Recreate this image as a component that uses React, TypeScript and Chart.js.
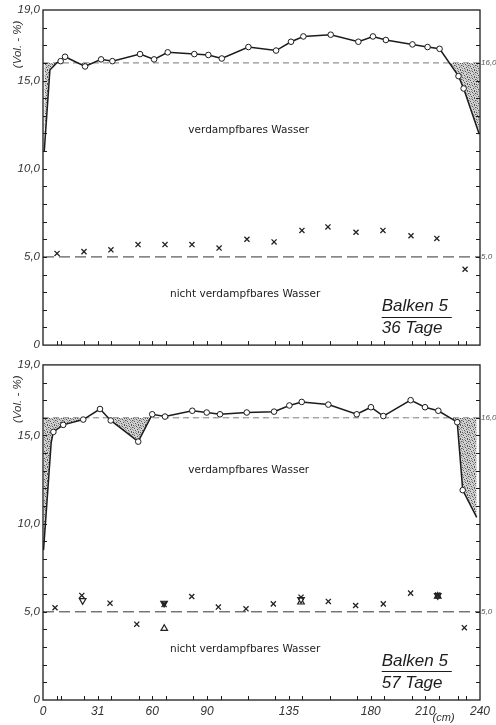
import React, { useEffect, useRef } from "react";
import { Chart, registerables } from "chart.js";
Chart.register(...registerables);

// ---------------- data ----------------
const xLabelValues = [0, 30, 60, 90, 135, 180, 210, 240];
const xLabelTexts = ["0", "31", "60", "90", "135", "180", "210", "240"];
const xMinorTicks = [7.5, 10, 22.5, 30, 37.5, 52.5, 60, 67.5, 82.5, 90, 97.5, 112.5, 127.5, 135, 142.5, 157.5, 172.5, 180, 187.5, 202.5, 210, 217.5, 228, 232.5];
const yLabelValues = [0, 5, 10, 15, 19];
const yRightLabelValues = [5, 16];
const upperReference = 16;
const lowerReference = 5;

// Panel 1 – Balken 5 / 36 Tage
const p1StartX = [0.7, 3.8, 7.5];
const p1StartY = [11.0, 15.6, 16.0];
const p1CircleX = [9.7, 12.1, 23.1, 31.9, 38.1, 53.3, 61, 68.5, 83.1, 90.8, 98.2, 112.8, 128, 136.2, 143, 158, 173.2, 181.2, 188.3, 202.9, 211.2, 217.8, 228.2, 231];
const p1CircleY = [16.1, 16.35, 15.8, 16.2, 16.1, 16.5, 16.2, 16.6, 16.5, 16.45, 16.25, 16.9, 16.7, 17.2, 17.5, 17.6, 17.2, 17.5, 17.3, 17.05, 16.9, 16.8, 15.25, 14.55];
const p1EndX = [239.6];
const p1EndY = [11.95];
const p1CrossX = [7.7, 22.5, 37.3, 52.2, 67, 81.8, 96.7, 112, 126.9, 142.2, 156.5, 171.9, 186.7, 202.1, 216.3, 231.8];
const p1CrossY = [5.2, 5.3, 5.4, 5.7, 5.7, 5.7, 5.5, 6.0, 5.85, 6.5, 6.7, 6.4, 6.5, 6.2, 6.05, 4.3];

// Panel 2 – Balken 5 / 57 Tage
const p2StartX = [0.3, 4.5];
const p2StartY = [8.5, 14.6];
const p2CircleX = [5.7, 11.1, 22.1, 31.3, 37.2, 52.3, 60, 67, 82, 89.9, 97.2, 111.9, 126.9, 135.3, 142.1, 156.7, 172.3, 180.1, 186.9, 201.9, 209.8, 217.1, 227.5, 230.5];
const p2CircleY = [15.2, 15.6, 15.9, 16.5, 15.85, 14.65, 16.2, 16.07, 16.4, 16.3, 16.2, 16.3, 16.35, 16.7, 16.9, 16.75, 16.2, 16.6, 16.1, 17.0, 16.6, 16.4, 15.75, 11.9];
const p2EndX = [238.2];
const p2EndY = [10.35];
const p2CrossX = [6.6, 21.3, 36.8, 51.5, 66.5, 81.7, 96.3, 111.5, 126.5, 141.7, 156.7, 171.7, 186.9, 201.9, 216.8, 231.4];
const p2CrossY = [5.23, 5.93, 5.49, 4.3, 5.42, 5.87, 5.27, 5.17, 5.45, 5.83, 5.59, 5.36, 5.45, 6.06, 5.96, 4.1];
const p2DownX = [21.8, 66.5, 141.7, 216.8];
const p2DownY = [5.64, 5.49, 5.7, 5.92];
const p2UpX = [66.6, 141.7, 216.8];
const p2UpY = [4.05, 5.55, 5.88];

// ---------------- helpers ----------------
const pts = (xs: number[], ys: number[]) => xs.map((x, i) => ({ x, y: ys[i] }));
const fmt = (v: number) => (v === 0 ? "0" : v.toFixed(1).replace(".", ","));
const INK = "#1c1c1c";
const AXIS_FONT = "Liberation Sans";

function makePattern(): CanvasPattern | string {
  const c = document.createElement("canvas");
  c.width = 7;
  c.height = 7;
  const g = c.getContext("2d");
  if (!g) return "#aaa";
  g.fillStyle = "#d2d2d2";
  g.fillRect(0, 0, 7, 7);
  g.fillStyle = "#555";
  [[0, 0], [3, 1], [6, 2], [1, 3], [4, 4], [2, 5], [5, 6], [5, 0]].forEach(([x, y]) => g.fillRect(x, y, 1, 1));
  g.fillStyle = "#999";
  [[2, 0], [0, 2], [4, 2], [6, 4], [0, 5], [3, 6], [1, 1], [5, 3]].forEach(([x, y]) => g.fillRect(x, y, 1, 1));
  return g.createPattern(c, "repeat") || "#aaa";
}

type PanelCfg = {
  startX: number[]; startY: number[];
  circleX: number[]; circleY: number[];
  endX: number[]; endY: number[];
  crossX: number[]; crossY: number[];
  downX?: number[]; downY?: number[];
  upX?: number[]; upY?: number[];
  days: string;
  showXLabels: boolean;
  canvasTop: number;
  canvasHeight: number;
  padTop: number;
  xAxisHeight: number;
};

function decoPlugin(cfg: PanelCfg) {
  return {
    id: "deco",
    afterDatasetsDraw(chart: any) {
      const { ctx, chartArea: a, scales } = chart;
      const xs = scales.x, ys = scales.y;
      ctx.save();
      // frame
      ctx.strokeStyle = INK;
      ctx.lineWidth = 1.3;
      ctx.strokeRect(a.left, a.top, a.right - a.left, a.bottom - a.top);
      // inward ticks
      ctx.lineWidth = 1;
      ctx.beginPath();
      for (let v = 1; v <= 18; v++) {
        const py = Math.round(ys.getPixelForValue(v)) + 0.5;
        ctx.moveTo(a.left, py); ctx.lineTo(a.left + 4, py);
        ctx.moveTo(a.right, py); ctx.lineTo(a.right - 4, py);
      }
      xMinorTicks.forEach((v) => {
        const px = Math.round(xs.getPixelForValue(v)) + 0.5;
        ctx.moveTo(px, a.bottom); ctx.lineTo(px, a.bottom - 4);
      });
      ctx.stroke();

      // texts
      ctx.fillStyle = INK;
      ctx.textBaseline = "middle";
      ctx.textAlign = "center";
      ctx.font = "10.5px 'DejaVu Sans'";
      const topTextY = cfg.showXLabels ? 13.0 : 12.2;
      ctx.fillText("verdampfbares Wasser", xs.getPixelForValue(113), ys.getPixelForValue(topTextY));
      ctx.fillText("nicht verdampfbares Wasser", xs.getPixelForValue(111), ys.getPixelForValue(2.9));

      // Balken label
      ctx.textAlign = "left";
      ctx.font = `italic 17px ${AXIS_FONT}`;
      const bx = xs.getPixelForValue(186);
      ctx.fillText("Balken 5", bx, ys.getPixelForValue(2.2));
      ctx.fillText(cfg.days, bx, ys.getPixelForValue(0.95));
      ctx.lineWidth = 1.2;
      ctx.beginPath();
      const by = Math.round(ys.getPixelForValue(1.62)) + 0.5;
      ctx.moveTo(bx, by);
      ctx.lineTo(xs.getPixelForValue(224.5), by);
      ctx.stroke();

      // y title
      ctx.save();
      ctx.translate(18, ys.getPixelForValue(17.05));
      ctx.rotate(-Math.PI / 2);
      ctx.textAlign = "center";
      ctx.font = `italic 11.5px ${AXIS_FONT}`;
      ctx.fillStyle = "#333";
      ctx.fillText("(Vol. - %)", 0, 0);
      ctx.restore();

      if (cfg.showXLabels) {
        ctx.font = `italic 11px ${AXIS_FONT}`;
        ctx.textAlign = "center";
        ctx.fillStyle = "#333";
        ctx.fillText("(cm)", xs.getPixelForValue(220), a.bottom + 18);
      }
      ctx.restore();
    },
  };
}

function Panel(cfg: PanelCfg) {
  const ref = useRef<HTMLCanvasElement | null>(null);
  useEffect(() => {
    if (!ref.current) return;
    const pattern = makePattern();
    const lineData = [
      ...pts(cfg.startX, cfg.startY),
      ...pts(cfg.circleX, cfg.circleY),
      ...pts(cfg.endX, cfg.endY),
    ];
    const nStart = cfg.startX.length;
    const nCircle = cfg.circleX.length;
    const isCircle = (i: number) => i >= nStart && i < nStart + nCircle;

    const datasets: any[] = [
      {
        data: lineData,
        borderColor: INK,
        borderWidth: 1.5,
        tension: 0,
        pointRadius: (c: any) => (isCircle(c.dataIndex) ? 2.8 : 0),
        pointBorderWidth: 1,
        pointBorderColor: INK,
        pointBackgroundColor: "#fff",
        fill: { target: { value: upperReference }, above: "rgba(0,0,0,0)", below: pattern },
      },
      {
        data: pts(cfg.crossX, cfg.crossY),
        showLine: false,
        pointStyle: "crossRot",
        pointRadius: 3.6,
        pointBorderWidth: 1.3,
        pointBorderColor: "#222",
      },
    ];
    if (cfg.downX && cfg.downY) {
      datasets.push({
        data: pts(cfg.downX, cfg.downY),
        showLine: false,
        pointStyle: "triangle",
        rotation: 180,
        pointRadius: 3.8,
        pointBorderWidth: 1.2,
        pointBorderColor: "#222",
        pointBackgroundColor: (c: any) => (c.dataIndex === 1 || c.dataIndex === 3 ? "#444" : "#fff"),
      });
    }
    if (cfg.upX && cfg.upY) {
      datasets.push({
        data: pts(cfg.upX, cfg.upY),
        showLine: false,
        pointStyle: "triangle",
        pointRadius: 3.8,
        pointBorderWidth: 1.2,
        pointBorderColor: "#222",
        pointBackgroundColor: (c: any) => (c.dataIndex === 2 ? "#444" : "#fff"),
      });
    }
    datasets.push(
      {
        data: [{ x: 0, y: upperReference }, { x: 240, y: upperReference }],
        borderColor: "#777",
        borderWidth: 1,
        borderDash: [6, 4],
        pointRadius: 0,
        fill: false,
      },
      {
        data: [{ x: 0, y: lowerReference }, { x: 240, y: lowerReference }],
        borderColor: "#333",
        borderWidth: 1,
        borderDash: [11, 5],
        pointRadius: 0,
        fill: false,
      }
    );

    const chart = new Chart(ref.current, {
      type: "line",
      data: { datasets },
      plugins: [decoPlugin(cfg)],
      options: {
        responsive: false,
        animation: false,
        devicePixelRatio: 1,
        layout: { padding: { top: cfg.padTop, left: 0, right: 0, bottom: 0 } },
        plugins: { legend: { display: false }, tooltip: { enabled: false } },
        scales: {
          x: {
            type: "linear",
            min: 0,
            max: 240,
            grid: { display: false, drawTicks: false },
            border: { display: false },
            afterBuildTicks: (s: any) => {
              s.ticks = xLabelValues.map((v) => ({ value: v }));
            },
            afterFit: (s: any) => {
              s.height = cfg.xAxisHeight;
            },
            ticks: {
              display: cfg.showXLabels,
              autoSkip: false,
              maxRotation: 0,
              padding: 4,
              color: "#333",
              font: { family: AXIS_FONT, size: 12, style: "italic" },
              callback: (_v: any, i: number) => xLabelTexts[i],
            },
          },
          y: {
            type: "linear",
            position: "left",
            min: 0,
            max: 19,
            grid: { display: false, drawTicks: false },
            border: { display: false },
            afterBuildTicks: (s: any) => {
              s.ticks = yLabelValues.map((v) => ({ value: v }));
            },
            afterFit: (s: any) => {
              s.width = 43;
            },
            ticks: {
              padding: 3,
              color: "#333",
              font: { family: AXIS_FONT, size: 11.5, style: "italic" },
              callback: (v: any) => fmt(Number(v)),
            },
          },
          y2: {
            type: "linear",
            position: "right",
            min: 0,
            max: 19,
            grid: { display: false, drawTicks: false },
            border: { display: false },
            afterBuildTicks: (s: any) => {
              s.ticks = yRightLabelValues.map((v) => ({ value: v }));
            },
            afterFit: (s: any) => {
              s.width = 16;
            },
            ticks: {
              padding: 1,
              color: "#555",
              font: { family: AXIS_FONT, size: 8, style: "italic" },
              callback: (v: any) => fmt(Number(v)),
            },
          },
        },
      } as any,
    });
    return () => chart.destroy();
  }, []);
  return (
    <canvas
      ref={ref}
      width={496}
      height={cfg.canvasHeight}
      style={{ position: "absolute", left: 0, top: cfg.canvasTop, width: 496, height: cfg.canvasHeight }}
    />
  );
}

export default function App() {
  return (
    <div style={{ position: "absolute", left: 0, top: 0, width: 496, height: 725, background: "#fff" }}>
      <Panel
        startX={p1StartX} startY={p1StartY}
        circleX={p1CircleX} circleY={p1CircleY}
        endX={p1EndX} endY={p1EndY}
        crossX={p1CrossX} crossY={p1CrossY}
        days="36 Tage"
        showXLabels={false}
        canvasTop={0}
        canvasHeight={355}
        padTop={10}
        xAxisHeight={8}
      />
      <Panel
        startX={p2StartX} startY={p2StartY}
        circleX={p2CircleX} circleY={p2CircleY}
        endX={p2EndX} endY={p2EndY}
        crossX={p2CrossX} crossY={p2CrossY}
        downX={p2DownX} downY={p2DownY}
        upX={p2UpX} upY={p2UpY}
        days="57 Tage"
        showXLabels={true}
        canvasTop={355}
        canvasHeight={370}
        padTop={6}
        xAxisHeight={25}
      />
    </div>
  );
}
